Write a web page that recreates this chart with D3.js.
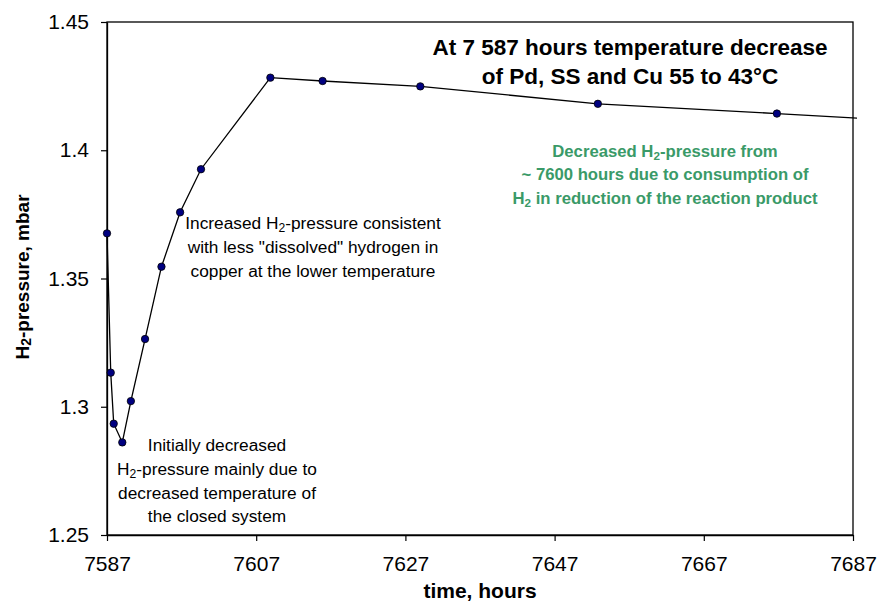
<!DOCTYPE html>
<html><head><meta charset="utf-8">
<script src="https://cdn.jsdelivr.net/npm/d3@7"></script>
<style>body{margin:0;background:#fff}svg{display:block}text{font-family:"Liberation Sans",Arial,sans-serif}</style>
</head><body>
<svg id="c" width="879" height="603"></svg>
<script>
const hours = [7587, 7587.5, 7587.9, 7589.05, 7590.2, 7592.1, 7594.3, 7596.8, 7599.6, 7608.9, 7615.9, 7629.0, 7652.8, 7676.8, 7700];
const pressure = [1.3676, 1.3133, 1.2934, 1.2861, 1.3022, 1.3264, 1.3546, 1.3758, 1.3926, 1.4283, 1.427, 1.4249, 1.4181, 1.4143, 1.4104];
const xTicks = [7587, 7607, 7627, 7647, 7667, 7687];
const yTicks = [1.25, 1.3, 1.35, 1.4, 1.45];
const yTickLabels = ["1.25", "1.3", "1.35", "1.4", "1.45"];

const svg = d3.select("#c");
const L = 107, R = 853, T = 22, B = 535;
const x = d3.scaleLinear().domain([7587, 7687]).range([L, R]);
const y = d3.scaleLinear().domain([1.25, 1.45]).range([B, T]);

svg.append("defs").append("clipPath").attr("id", "clip")
  .append("rect").attr("x", L - 6).attr("y", T - 6).attr("width", R - L + 10).attr("height", B - T + 12);

// frame
svg.append("rect").attr("x", L).attr("y", T).attr("width", R - L).attr("height", B - T)
  .attr("fill", "none").attr("stroke", "#000").attr("stroke-width", 1.3);

const xAxis = svg.append("g").attr("transform", `translate(0,${B})`)
  .call(d3.axisBottom(x).tickValues(xTicks).tickFormat(d3.format("d")).tickSize(6).tickSizeOuter(0));
xAxis.select(".domain").attr("stroke-width", 1.3);
xAxis.selectAll(".tick line").attr("stroke-width", 1.2);
xAxis.selectAll(".tick text").attr("font-size", 21).attr("dy", "0").attr("y", 36)
  .style("font-family", "'Liberation Sans', Arial, sans-serif").attr("fill", "#000");

const yAxis = svg.append("g").attr("transform", `translate(${L},0)`)
  .call(d3.axisLeft(y).tickValues(yTicks).tickFormat((d, i) => yTickLabels[i]).tickSize(6).tickSizeOuter(0));
yAxis.select(".domain").attr("stroke-width", 1.3);
yAxis.selectAll(".tick line").attr("stroke-width", 1.2);
yAxis.selectAll(".tick text").attr("font-size", 21).attr("x", -18)
  .style("font-family", "'Liberation Sans', Arial, sans-serif").attr("fill", "#000");

// line and points
const g = svg.append("g").attr("clip-path", "url(#clip)");
const pts = hours.map((h, i) => [h, pressure[i]]);
g.append("path").datum(pts)
  .attr("d", d3.line().x(d => x(d[0])).y(d => y(d[1])))
  .attr("fill", "none").attr("stroke", "#000").attr("stroke-width", 1.3);
g.selectAll("circle").data(pts.filter(p => p[0] <= 7687)).join("circle")
  .attr("cx", d => x(d[0])).attr("cy", d => y(d[1])).attr("r", 3.7)
  .attr("fill", "#000080").attr("stroke", "#000").attr("stroke-width", 0.8);

// axis titles
svg.append("text").attr("x", 480).attr("y", 598).attr("text-anchor", "middle")
  .attr("font-size", 21).attr("font-weight", "bold").text("time, hours");
const yt = svg.append("text").attr("transform", "translate(29,277) rotate(-90)")
  .attr("text-anchor", "middle").attr("font-size", 19).attr("font-weight", "bold");
yt.append("tspan").text("H");
yt.append("tspan").attr("font-size", 14).attr("dy", 2).text("2");
yt.append("tspan").attr("dy", -2).text("-pressure, mbar");

// title
const tt = svg.append("text").attr("text-anchor", "middle").attr("font-size", 22.5).attr("font-weight", "bold");
tt.append("tspan").attr("x", 630).attr("y", 55).text("At 7 587 hours temperature decrease");
tt.append("tspan").attr("x", 630).attr("y", 84).text("of Pd, SS and Cu 55 to 43°C");

function addLines(cx, ys, lines, size, weight, color) {
  const t = svg.append("text").attr("text-anchor", "middle").attr("font-size", size)
    .attr("font-weight", weight).attr("fill", color);
  lines.forEach((ln, i) => {
    const parts = ln.split("_2");
    t.append("tspan").attr("x", cx).attr("y", ys[i]).text(parts[0]);
    if (parts.length > 1) {
      t.append("tspan").attr("font-size", size * 0.7).attr("dy", 3).text("2");
      t.append("tspan").attr("dy", -3).text(parts[1]);
    }
  });
}
addLines(665, [157, 180, 204], [
  "Decreased H_2-pressure from",
  "~ 7600 hours due to consumption of",
  "H_2 in reduction of the reaction product"], 16.7, "bold", "#3a9a68");
addLines(313, [229, 253, 277], [
  "Increased H_2-pressure consistent",
  "with less \"dissolved\" hydrogen in",
  "copper at the lower temperature"], 17.3, "normal", "#000");
addLines(217, [451, 475, 499, 522], [
  "Initially decreased",
  "H_2-pressure mainly due to",
  "decreased temperature of",
  "the closed system"], 17.3, "normal", "#000");
</script>
</body></html>
